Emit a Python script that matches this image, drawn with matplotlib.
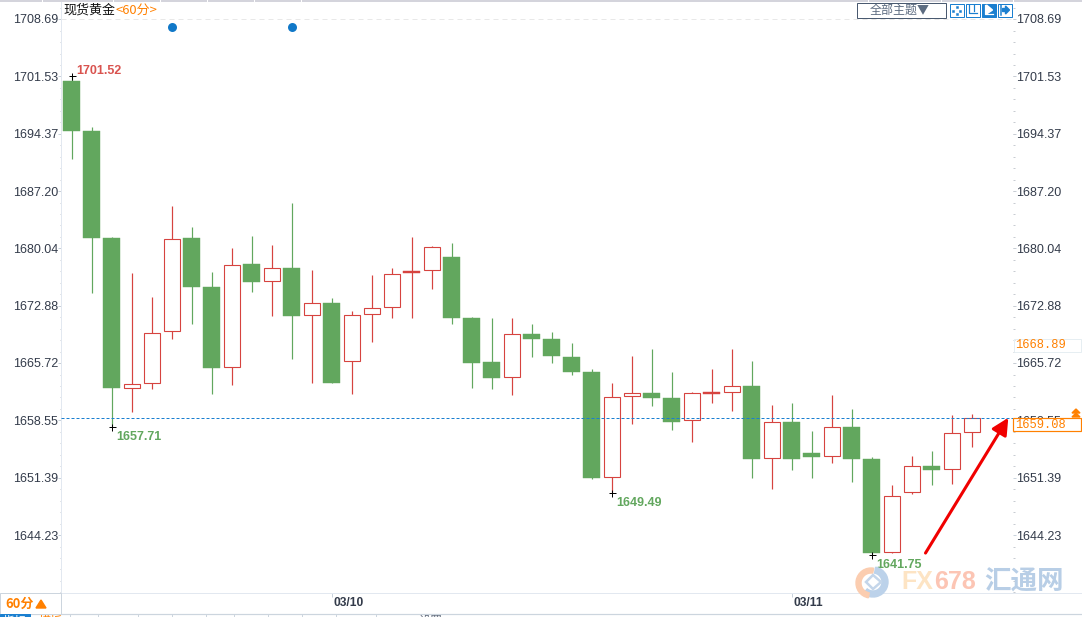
import matplotlib
matplotlib.use("Agg")
import matplotlib.pyplot as plt
from matplotlib.patches import Rectangle, Wedge, Polygon
from matplotlib.ticker import AutoMinorLocator
from matplotlib.transforms import ScaledTranslation

# hourly candles
opens = [1700.94, 1694.70, 1681.33, 1662.63, 1663.18, 1669.68, 1681.33, 1675.21, 1665.18, 1678.08,
         1675.92, 1677.58, 1671.68, 1673.21, 1665.93, 1671.80, 1672.68, 1676.92, 1677.30, 1678.96,
         1671.38, 1665.84, 1663.93, 1669.34, 1668.72, 1666.47, 1664.59, 1651.44, 1661.56, 1661.97,
         1661.34, 1658.56, 1661.88, 1662.06, 1662.84, 1653.81, 1658.35, 1654.47, 1654.06, 1657.72,
         1653.73, 1642.07, 1649.56, 1652.85, 1652.44, 1657.06]
closes = [1694.70, 1681.33, 1662.63, 1663.06, 1669.43, 1681.17, 1675.21, 1665.13, 1677.92, 1675.87,
          1677.55, 1671.63, 1673.18, 1663.26, 1671.68, 1672.55, 1676.80, 1677.17, 1680.17, 1671.38,
          1665.75, 1663.88, 1669.30, 1668.75, 1666.63, 1664.63, 1651.39, 1661.43, 1661.93, 1661.38,
          1658.38, 1661.93, 1662.06, 1662.81, 1653.76, 1658.31, 1653.76, 1654.01, 1657.68, 1653.76,
          1642.02, 1649.06, 1652.81, 1652.39, 1656.94, 1658.81]
highs = [1701.52, 1695.24, 1681.46, 1676.96, 1673.96, 1685.33, 1682.71, 1677.09, 1680.08, 1681.58,
         1680.46, 1685.70, 1677.34, 1673.84, 1672.18, 1676.71, 1677.58, 1681.46, 1680.33, 1680.71,
         1671.46, 1671.34, 1671.34, 1670.59, 1669.59, 1668.22, 1664.97, 1663.22, 1666.59, 1667.47,
         1664.59, 1662.09, 1664.97, 1667.47, 1665.97, 1660.47, 1660.72, 1657.22, 1661.72, 1659.97,
         1653.97, 1650.48, 1654.10, 1654.72, 1659.22, 1659.35]
lows = [1691.24, 1674.50, 1657.71, 1659.63, 1662.51, 1668.75, 1670.63, 1661.88, 1663.01, 1674.62,
        1671.63, 1666.25, 1663.26, 1663.26, 1661.88, 1668.38, 1671.38, 1671.38, 1675.00, 1670.63,
        1662.63, 1662.51, 1661.76, 1666.50, 1665.75, 1664.26, 1651.26, 1649.49, 1658.14, 1660.38,
        1657.39, 1655.89, 1660.76, 1659.76, 1651.39, 1650.01, 1652.39, 1651.39, 1653.26, 1650.89,
        1641.75, 1641.98, 1649.39, 1650.51, 1650.64, 1655.26]

price_ticks = [1708.69, 1701.53, 1694.37, 1687.20, 1680.04, 1672.88, 1665.72, 1658.55, 1651.39, 1644.23]
date_idx = [13, 36]
date_labels = ["03/10", "03/11"]
event_idx = [5, 11]
event_price = 1707.7
extremes = [(0, 1701.52, "#d9534f", 5), (2, 1657.71, "#62a75e", -10),
            (27, 1649.49, "#62a75e", -10), (40, 1641.75, "#62a75e", -10)]
last_price = 1658.88
last_label = "1659.08"
prev_label = "1668.89"

GREEN = "#62a75e"
RED = "#d6433f"
BLUE = "#1a7fd0"
ORANGE = "#ff8000"
TXT = "#333b4a"
CJK = ["Noto Sans CJK SC", "DejaVu Sans"]
PX = 0.72  # one pixel in points at dpi 100

W, H = 1082, 617
fig = plt.figure(figsize=(W / 100, H / 100), dpi=100)
ax = fig.add_axes([61 / W, (H - 593) / H, 952 / W, 593 / H])
ax.set_xlim(-0.525, 47.075)
ax.set_ylim(1636.99, 1711.06)

for i in range(len(opens)):
    up = closes[i] >= opens[i]
    col = RED if up else GREEN
    ax.vlines(i, lows[i], highs[i], color=col, lw=1.2 * PX, zorder=2, snap=True)
    lo, hi = min(opens[i], closes[i]), max(opens[i], closes[i])
    thin = hi - lo < 0.3
    if up and not thin:
        ax.bar(i, hi - lo, bottom=lo, width=0.8, facecolor="white", edgecolor=col, lw=1.1 * PX, zorder=3)
    else:
        ax.bar(i, hi - lo, bottom=lo, width=0.85, facecolor=col, edgecolor=col, lw=0.3, zorder=3)

ax.axhline(price_ticks[0], color="#e8e8e8", lw=1 * PX, dashes=(5, 4), zorder=1)
ax.axhline(last_price, color=BLUE, lw=1 * PX, dashes=(3, 2), zorder=4)
ax.plot(event_idx, [event_price] * len(event_idx), "o", color="#1078c8", ms=9 * PX, mew=0, zorder=3)

for i, p, col, dy in extremes:
    ax.plot(i, p, "+", color="black", ms=7 * PX, mew=1 * PX, zorder=5, clip_on=False)
    ax.annotate("%.2f" % p, (i, p), xytext=(4.5 * PX, dy * PX), textcoords="offset points",
                color=col, fontsize=12.5 * PX, fontweight="bold", family="Liberation Sans",
                va="center", zorder=6)

# red arrow, given in chart coordinates
ax.annotate("", xy=(46.84, 1658.88), xytext=(42.7, 1641.98),
            arrowprops=dict(arrowstyle="-|>,head_length=1.0,head_width=0.5", color="#f00000", lw=2.2,
                            mutation_scale=10, shrinkA=0, shrinkB=0), annotation_clip=False, zorder=5)

for s in ["top", "right"]:
    ax.spines[s].set_visible(False)
ax.spines["left"].set_color("#e2e8f0")
ax.spines["bottom"].set_color("#e2e8f0")
ax.spines["left"].set_linewidth(1 * PX)
ax.spines["bottom"].set_linewidth(1 * PX)

ax.set_yticks(price_ticks)
ax.set_yticklabels(["%.2f" % p for p in price_ticks], family="Liberation Sans", fontsize=12.5 * PX, color=TXT)
ax.yaxis.set_minor_locator(AutoMinorLocator(5))
ax.tick_params(axis="y", which="major", left=True, right=True, labelright=True, direction="out",
               length=3 * PX, width=1 * PX, color="#c8d2dc", pad=0)
ax.tick_params(axis="y", which="minor", left=True, right=True, direction="out",
               length=1.5 * PX, width=1 * PX, color="#c8ccd2")
ax.set_xticks(date_idx)
ax.set_xticklabels(date_labels, family="Liberation Sans", fontsize=12 * PX, fontweight="bold", color=TXT, ha="left")
ax.tick_params(axis="x", length=4 * PX, width=1 * PX, color="#c8d2dc", pad=0)
for lbl in ax.get_xticklabels():
    lbl.set_transform(lbl.get_transform() + ScaledTranslation(1.5 / 100, 0, fig.dpi_scale_trans))

# page furniture around the chart, in pixels
ui = fig.add_axes([0, 0, 1, 1], facecolor="none")
ui.set_xlim(0, W)
ui.set_ylim(H, 0)
ui.axis("off")


def box(x0, y0, x1, y1, ec, fc="white", lw=1, z=5):
    ui.add_patch(Rectangle((x0, y0), x1 - x0, y1 - y0, edgecolor=ec, facecolor=fc, lw=lw * PX, zorder=z))


# top strip
ui.plot([0, W], [0.8, 0.8], color="#d4d4dc", lw=2 * PX, zorder=2)
for x in [42, 113, 160, 207, 254, 301, 868, 941, 1013]:
    ui.plot([x, x], [0, 2], color="white", lw=1 * PX, zorder=3)

ui.text(63, 10.5, "现货黄金", family=CJK, fontsize=13 * PX, color="#111111", va="center")
ui.text(115, 10.5, "<60分>", family=CJK, fontsize=13 * PX, color=ORANGE, va="center")

# theme button and toolbar icons
box(856.5, 2.5, 945.5, 17.5, "#4a5a70")
ui.text(900, 10.5, "全部主题▼", family=CJK, fontsize=12 * PX, color="#5c6b80", ha="center", va="center", zorder=6)
for k, x in enumerate([949.5, 965.5, 981.5, 997.5]):
    fc = BLUE if k == 2 else "white"
    fg = "white" if k == 2 else BLUE
    box(x, 3.5, x + 14, 17, BLUE, fc=fc)
    if k == 0:
        for dx, dy in [(0, -3.5), (0, 3.5), (-3.5, 0), (3.5, 0)]:
            box(x + 6 + dx, 9.5 + dy, x + 8 + dx, 11.5 + dy, fg, fc=fg, lw=0.5, z=6)
    elif k == 1:
        ui.plot([x + 3, x + 3, x + 11], [5, 13, 13], color=fg, lw=1.2 * PX, zorder=6)
        ui.plot([x + 8, x + 8], [5, 11], color=fg, lw=1.2 * PX, zorder=6)
    elif k == 2:
        ui.add_patch(Polygon([(x + 5, 5), (x + 11, 10), (x + 5, 14)], color=fg, zorder=6))
        ui.plot([x + 3, x + 3, x + 11], [5, 14, 14], color=fg, lw=1.2 * PX, zorder=6)
    else:
        ui.plot([x + 3, x + 3], [5, 15], color=fg, lw=1.5 * PX, zorder=6)
        ui.add_patch(Polygon([(x + 5, 8.5), (x + 8, 8.5), (x + 8, 6), (x + 12, 10), (x + 8, 14),
                              (x + 8, 11.5), (x + 5, 11.5)], color=fg, zorder=6))

# price boxes on the right
box(1013.5, 338.5, 1080.5, 351.5, "#e6eef2", fc="none")
ui.text(1015, 345, prev_label, family="Liberation Mono", fontsize=12 * PX, color=ORANGE, va="center", zorder=6)
box(1012.5, 417.5, 1081, 430.5, ORANGE, lw=1.2)
ui.text(1015, 424.5, last_label, family="Liberation Mono", fontsize=12 * PX, color=ORANGE, va="center", zorder=6)
for y in [409, 413]:
    ui.add_patch(Polygon([(1072, y + 4), (1076, y), (1080, y + 4)], color=ORANGE, zorder=6))

# bottom bars
ui.plot([1013, W], [593, 593], color="#e2e8f0", lw=1 * PX, zorder=2)
ui.plot([0, W], [613.5, 613.5], color="#ccd5de", lw=1.2 * PX, zorder=2)
box(0, 593, 60.5, 613.5, "#ccd5de", fc="white", z=3)
ui.text(5, 603.5, "60分", family=CJK, fontsize=13 * PX, fontweight="bold", color=ORANGE, va="center", zorder=6)
ui.add_patch(Polygon([(36, 608), (41, 600), (46, 608)], color=ORANGE, zorder=6))

box(0, 614, 30, 617, BLUE, fc=BLUE, z=3)
for x in [70, 98, 138, 172, 206, 234, 268, 302, 336, 376]:
    ui.plot([x, x], [614, 617], color="#ccd5de", lw=1 * PX, zorder=2)
# tab captions, cut off by the page edge like in the screenshot
ui.text(15, 621, "指标", family=CJK, fontsize=12 * PX, color="white", ha="center", va="center", zorder=6)
ui.text(51, 621, "模板", family=CJK, fontsize=12 * PX, color=ORANGE, ha="center", va="center", zorder=6)
ui.text(430, 621, "设置", family=CJK, fontsize=12 * PX, color="#667080", ha="center", va="center", zorder=6)

# watermark
ui.add_patch(Wedge((873, 582), 15, -80, 130, width=6, color="#bcd2ea", zorder=1))
ui.add_patch(Wedge((871, 583), 15, 100, 280, width=5, color="#fbcdb0", zorder=1))
ui.add_patch(Polygon([(873, 575), (881, 582), (873, 589), (866, 582)], closed=True, fill=False,
                     edgecolor="#c4d6ea", lw=2.5 * PX, zorder=1))
ui.text(901, 582, "FX", family="Liberation Sans", fontsize=25 * PX, fontweight="bold", color="#fde4c4", va="center", zorder=1)
ui.text(934, 582, "678", family="Liberation Sans", fontsize=25 * PX, fontweight="bold", color="#fcc5b4", va="center", zorder=1)
ui.text(1024, 582, "汇通网", family=CJK, fontsize=26.5 * PX, fontweight="bold", color="#b8cee6", ha="center", va="center", zorder=1)

fig.savefig("out.png", dpi=100)
